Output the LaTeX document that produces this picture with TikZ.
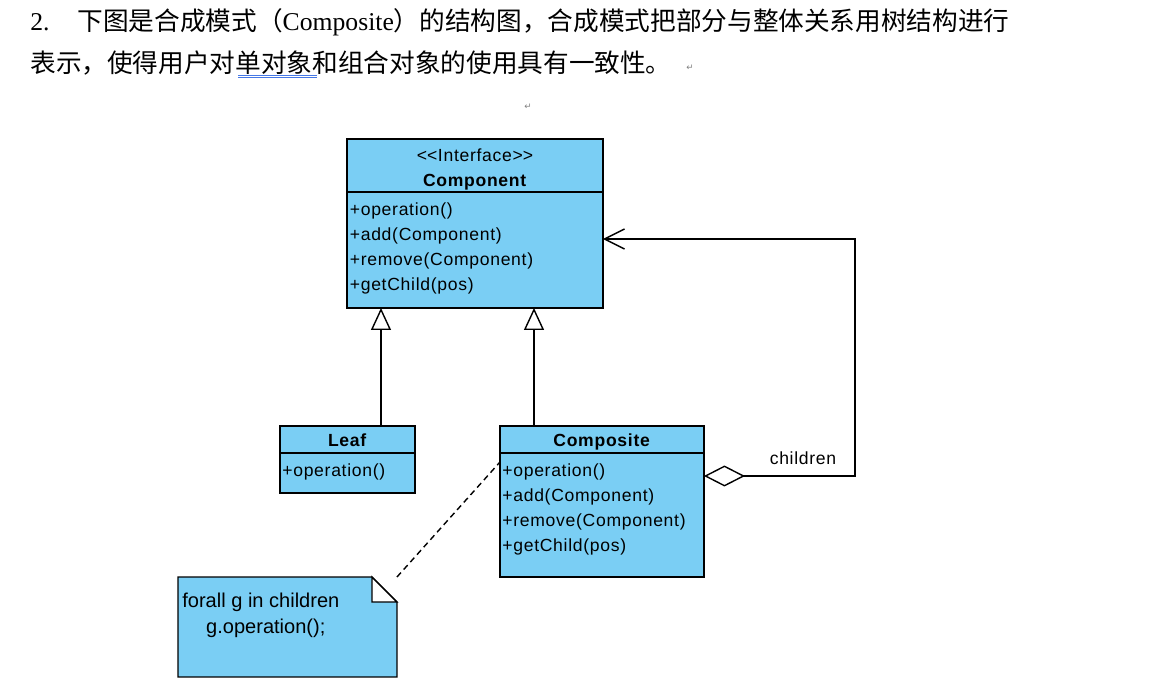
\documentclass[tikz,border=0pt]{standalone}
\usepackage{fontspec}
\setmainfont{Liberation Serif}
\newfontfamily\cjk{Noto Sans CJK SC}
\newfontfamily\umlfont{Liberation Sans}[LetterSpace=4]
\newfontfamily\notefont{Liberation Sans}
\newfontfamily\markfont{DejaVu Sans}
\usetikzlibrary{arrows.meta}
\definecolor{umlblue}{RGB}{122,206,244}
\definecolor{squiggle}{RGB}{70,120,230}
\begin{document}
\begin{tikzpicture}[x=0.02cm, y=-0.02cm,
    headbox/.style={draw, fill=umlblue, line width=0.8pt, anchor=north west, inner sep=0pt, outer sep=0pt, align=center, text height=8.5pt, text depth=0pt, font=\umlfont\fontsize{10}{14.74}\selectfont},
    bodybox/.style={draw, fill=umlblue, line width=0.8pt, anchor=north west, inner sep=0pt, outer sep=0pt},
    members/.style={anchor=north west, inner sep=0pt, align=left, font=\umlfont\fontsize{10}{14.34}\selectfont},
    inherit/.style={line width=0.8pt, -{Triangle[open, length=0.44cm, width=0.4cm, fill=white]}},
    aggr/.style={line width=0.8pt, {Diamond[open, length=0.82cm, width=0.42cm, fill=white]}-{Straight Barb[length=0.4cm, width=0.4cm]}},
    retmark/.style={text=gray, inner sep=0pt, font=\markfont\fontsize{5}{6}\selectfont}]
    \useasboundingbox (0,0) rectangle (1158,683);

    \node[anchor=west, inner sep=0pt, font=\fontsize{14.6}{17}\selectfont] (line1) at (30,22) {2.\hspace{15.9pt}{\cjk 下图是合成模式（}Composite{\cjk ）的结构图，合成模式把部分与整体关系用树结构进行}};
    \node[anchor=west, inner sep=0pt, font=\fontsize{14.6}{17}\selectfont] (line2) at (30,63) {\cjk 表示，使得用户对单对象和组合对象的使用具有一致性。};
    \draw[squiggle, line width=0.5pt] (238,75) -- (317,75) (238,77.5) -- (317,77.5);
    \node[retmark] (retmarka) at (690,68) {↵};
    \node[retmark] (retmarkb) at (528,107) {↵};

    \node[headbox, minimum width=5.12cm, minimum height=1.06cm, text height=24.4pt, text depth=0pt] (ifacehead) at (347,139) {<\kern0pt<Interface>\kern0pt>\\\textbf{Component}};
    \node[bodybox, minimum width=5.12cm, minimum height=2.32cm] (ifacebody) at (ifacehead.south west) {};
    \node[members] (ifaceops) at (349.5,202) {+operation()\\+add(Component)\\+remove(Component)\\+getChild(pos)};

    \node[headbox, minimum width=2.7cm, minimum height=0.54cm] (leafhead) at (280,426) {\textbf{Leaf}};
    \node[bodybox, minimum width=2.7cm, minimum height=0.8cm] (leafbody) at (leafhead.south west) {};
    \node[members] (leafops) at (282,463) {+operation()};

    \node[headbox, minimum width=4.08cm, minimum height=0.54cm] (comphead) at (500,426) {\textbf{Composite}};
    \node[bodybox, minimum width=4.08cm, minimum height=2.48cm] (compbody) at (comphead.south west) {};
    \node[members] (compops) at (502,463) {+operation()\\+add(Component)\\+remove(Component)\\+getChild(pos)};

    \node[minimum width=4.38cm, minimum height=2cm, anchor=north west, inner sep=0pt, outer sep=0pt] (note) at (178,577) {};
    \filldraw[fill=umlblue, line width=0.8pt] (note.north west) -- ([xshift=-0.5cm]note.north east) -- ([yshift=-0.5cm]note.north east) -- (note.south east) -- (note.south west) -- cycle;
    \filldraw[fill=white, line width=0.8pt] ([xshift=-0.5cm]note.north east) |- ([yshift=-0.5cm]note.north east) -- cycle;
    \node[anchor=north west, align=left, inner sep=0pt, font=\notefont\fontsize{11.4}{14.7}\selectfont] (notetext) at (182,593) {forall g in children\\\hspace*{13.6pt}g.operation();};

    \draw[line width=0.8pt, dash pattern=on 3.4pt off 2.3pt] (note.north east) -- ([yshift=-0.18cm]compbody.north west);
    \draw[inherit] ([xshift=0.67cm]leafhead.north) -- ([xshift=0.67cm]leafhead.north |- ifacebody.south);
    \draw[inherit] ([xshift=-1.36cm]comphead.north) -- ([xshift=-1.36cm]comphead.north |- ifacebody.south);
    \draw[aggr] ([yshift=-0.46cm]compbody.north east) -- ++(3.02cm,0) |- ([yshift=-0.94cm]ifacebody.north east);
    \node[font=\umlfont\fontsize{10}{12}\selectfont] (childlabel) at (803,458) {children};
\end{tikzpicture}
\end{document}
